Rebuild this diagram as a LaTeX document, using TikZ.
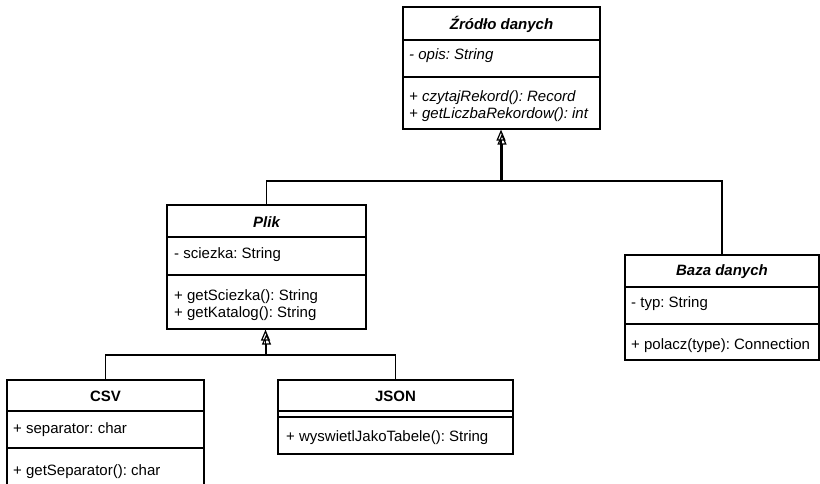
\documentclass[tikz,border=0pt]{standalone}
\usepackage{fontspec}
\setmainfont{Liberation Sans}
\usetikzlibrary{arrows.meta}
\frenchspacing
\tikzset{
  cls/.style={draw, line width=1.2pt, rectangle, inner sep=0pt, fill=white},
  title/.style={font=\fontsize{15}{16}\selectfont\bfseries, inner sep=0pt},
  atitle/.style={font=\fontsize{15}{16}\selectfont\bfseries\itshape, inner sep=0pt},
  member/.style={anchor=west, inner sep=0pt, font=\fontsize{15}{16}\selectfont},
  amember/.style={member, font=\fontsize{15}{16}\selectfont\itshape},
  divider/.style={line width=1.2pt},
  gen/.style={line width=1.2pt, -{Triangle[open, length=11pt, width=9pt]}},
}
\begin{document}
\begin{tikzpicture}[x=1pt,y=-1pt]
\useasboundingbox (0,0) rectangle (820,484);
\clip (0,0) rectangle (820,484);
\fill[white] (0,0) rectangle (820,484);

% Zrodlo danych
\node[cls, minimum width=197pt, minimum height=122pt] (zr) at (501.5,68) {};
\draw[divider] (zr.west |- 0,40) -- (zr.east |- 0,40);
\draw[divider] (zr.west |- 0,77) -- (zr.east |- 0,77);
\node[atitle] (zrT) at (501.5,24) {Źródło danych};
\node[amember] (zrA) at (409,56) {- opis: String};
\node[amember] (zrM1) at (409,98) {+ czytajRekord(): Record};
\node[amember] (zrM2) at (409,115) {+ getLiczbaRekordow(): int};

% Plik
\node[cls, minimum width=199pt, minimum height=124pt] (plik) at (266.5,267) {};
\draw[divider] (plik.west |- 0,237) -- (plik.east |- 0,237);
\draw[divider] (plik.west |- 0,275) -- (plik.east |- 0,275);
\node[atitle] (plikT) at (266.5,222) {Plik};
\node[member] (plikA) at (174,255) {- sciezka: String};
\node[member] (plikM1) at (174,297) {+ getSciezka(): String};
\node[member] (plikM2) at (174,314) {+ getKatalog(): String};

% Baza danych
\node[cls, minimum width=194pt, minimum height=105pt] (baza) at (722,307.5) {};
\draw[divider] (baza.west |- 0,287) -- (baza.east |- 0,287);
\draw[divider] (baza.west |- 0,324) -- (baza.east |- 0,324);
\node[atitle] (bazaT) at (722,272) {Baza danych};
\node[member] (bazaA) at (631,304) {- typ: String};
\node[member] (bazaM) at (631,346) {+ polacz(type): Connection};

% CSV
\node[cls, minimum width=197pt, minimum height=130pt] (csv) at (105.5,445) {};
\draw[divider] (csv.west |- 0,411) -- (csv.east |- 0,411);
\draw[divider] (csv.west |- 0,448) -- (csv.east |- 0,448);
\node[title] (csvT) at (105.5,396) {CSV};
\node[member] (csvA) at (13,430) {+ separator: char};
\node[member] (csvM) at (13,472) {+ getSeparator(): char};

% JSON
\node[cls, minimum width=235pt, minimum height=74pt] (json) at (395.5,417) {};
\draw[divider] (json.west |- 0,411) -- (json.east |- 0,411);
\draw[divider] (json.west |- 0,417) -- (json.east |- 0,417);
\node[title] (jsonT) at (395.5,396) {JSON};
\node[member] (jsonM) at (286,438) {+ wyswietlJakoTabele(): String};

% generalizations
\coordinate (j1) at (501,181);
\coordinate (j1b) at (502,181);
\coordinate (j2) at (265.5,355);
\coordinate (j2b) at (266.5,355);
\draw[gen] (plik.north) |- (j1) -- (j1 |- zr.south);
\draw[gen] (baza.north) |- (j1b) -- ([yshift=-4pt]j1b |- zr.south);
\draw[gen] (csv.north) |- (j2) -- (j2 |- plik.south);
\draw[gen] (json.north) |- (j2b) -- ([yshift=-4pt]j2b |- plik.south);
\end{tikzpicture}
\end{document}
